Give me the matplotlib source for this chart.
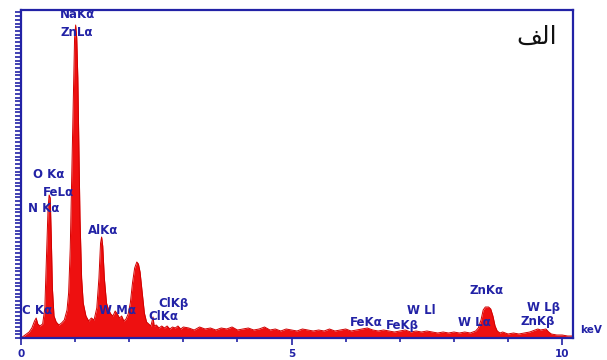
import matplotlib
matplotlib.use('Agg')
import matplotlib.pyplot as plt
import numpy as np

# EDS spectrum (energy in keV, counts in arbitrary units)
energy_kev = [0.00, 0.05, 0.10, 0.15, 0.20, 0.25, 0.28, 0.31, 0.35, 0.40,
              0.44, 0.47, 0.50, 0.52, 0.54, 0.56, 0.58, 0.61, 0.65, 0.70,
              0.75, 0.80, 0.85, 0.88, 0.91, 0.94, 0.97, 0.99, 1.01, 1.03,
              1.05, 1.07, 1.09, 1.12, 1.15, 1.20, 1.25, 1.30, 1.35, 1.40,
              1.44, 1.47, 1.49, 1.51, 1.54, 1.58, 1.62, 1.66, 1.70, 1.74,
              1.78, 1.82, 1.86, 1.90, 1.94, 1.98, 2.02, 2.06, 2.10, 2.14,
              2.17, 2.20, 2.24, 2.28, 2.32, 2.36, 2.40, 2.44, 2.46, 2.50,
              2.55, 2.60, 2.65, 2.70, 2.75, 2.80, 2.85, 2.90, 2.95, 3.00,
              3.10, 3.20, 3.30, 3.40, 3.50, 3.60, 3.70, 3.80, 3.90, 4.00,
              4.10, 4.20, 4.30, 4.40, 4.50, 4.60, 4.70, 4.80, 4.90, 5.00,
              5.10, 5.20, 5.30, 5.40, 5.50, 5.60, 5.70, 5.80, 5.90, 6.00,
              6.10, 6.20, 6.30, 6.40, 6.50, 6.60, 6.70, 6.80, 6.90, 7.00,
              7.10, 7.20, 7.30, 7.40, 7.50, 7.60, 7.70, 7.80, 7.90, 8.00,
              8.10, 8.20, 8.30, 8.40, 8.45, 8.50, 8.54, 8.58, 8.64, 8.68,
              8.72, 8.76, 8.80, 8.85, 8.90, 9.00, 9.10, 9.20, 9.30, 9.40,
              9.50, 9.55, 9.60, 9.70, 9.75, 9.80, 9.90, 10.00, 10.10, 10.20]
counts = [0, 2, 4, 6, 10, 17, 20, 14, 12, 14,
          30, 80, 130, 143, 140, 100, 50, 22, 16, 13,
          15, 18, 28, 45, 90, 170, 250, 300, 313, 300,
          260, 190, 120, 60, 35, 22, 17, 20, 18, 30,
          60, 95, 101, 92, 60, 35, 28, 24, 22, 27,
          24, 20, 22, 17, 19, 24, 35, 55, 70, 76,
          74, 66, 45, 25, 16, 14, 12, 21, 12, 13,
          10, 12, 10, 12, 9, 11, 10, 12, 9, 11,
          10, 8, 11, 9, 10, 8, 10, 9, 11, 8,
          9, 10, 8, 9, 11, 8, 9, 7, 9, 8,
          7, 9, 8, 7, 8, 7, 9, 7, 8, 9,
          7, 8, 9, 10, 8, 7, 8, 7, 6, 7,
          8, 6, 7, 6, 7, 6, 5, 6, 5, 6,
          5, 6, 5, 7, 10, 18, 28, 31, 31, 29,
          22, 12, 7, 5, 6, 4, 5, 4, 5, 6,
          8, 9, 8, 9, 6, 4, 3, 3, 2, 2]

peak_labels = ['NaKα', 'ZnLα', 'O Kα', 'FeLα', 'N Kα', 'AlKα', 'C Kα', 'W Mα',
               'ClKβ', 'ClKα', 'FeKα', 'FeKβ', 'W Ll', 'W Lα', 'ZnKα', 'W Lβ', 'ZnKβ']
label_x = [1.05, 1.03, 0.52, 0.70, 0.41, 1.52, 0.30, 1.78,
           2.81, 2.64, 6.38, 7.04, 7.39, 8.37, 8.61, 9.65, 9.54]
label_y = [323, 306, 163, 145, 130, 108, 28, 28,
           35, 21, 15, 12, 28, 16, 48, 30, 16]

blue = '#2222a6'
red = '#ee1010'

fig = plt.figure(figsize=(6.07, 3.6), dpi=100)
ax = fig.add_axes([21 / 607, 22 / 360, 552 / 607, 328 / 360])

ax.fill_between(energy_kev, counts, 0, color=red, linewidth=0)
ax.plot(energy_kev, counts, color='#d00000', linewidth=0.7)

ax.set_xlim(0, 10.2)
ax.set_ylim(0, 328)

for sp in ax.spines.values():
    sp.set_color(blue)
    sp.set_linewidth(1.6)

ax.set_xticks([0, 5, 10])
ax.set_xticklabels(['0', '5', '10'])
ax.set_xticks(np.arange(0, 11, 1), minor=True)
ax.tick_params(axis='x', which='both', direction='out', color=blue, width=1.2,
               labelcolor=blue, labelsize=7.5, pad=3)
ax.tick_params(axis='x', which='major', length=5)
ax.tick_params(axis='x', which='minor', length=3)
for t in ax.get_xticklabels():
    t.set_fontweight('bold')

ax.set_yticks(np.arange(0, 328, 3.7))
ax.tick_params(axis='y', which='major', direction='out', length=4, width=1.2,
               color=blue, labelleft=False)

for name, x, y in zip(peak_labels, label_x, label_y):
    ax.text(x, y, name, color=blue, fontsize=8.5, fontweight='bold',
            ha='center', va='center')

ax.text(10.54, 8, 'keV', color=blue, fontsize=7.5, fontweight='bold',
        ha='center', va='center', clip_on=False)

# "الف" written with presentation forms so it shows joined, right to left
ax.text(0.935, 0.918, '\uFED2\uFEDF\uFE8D', transform=ax.transAxes,
        fontsize=18, color='#111111', ha='center', va='center',
        family=['DejaVu Sans'])

fig.savefig('out.png', dpi=100)
